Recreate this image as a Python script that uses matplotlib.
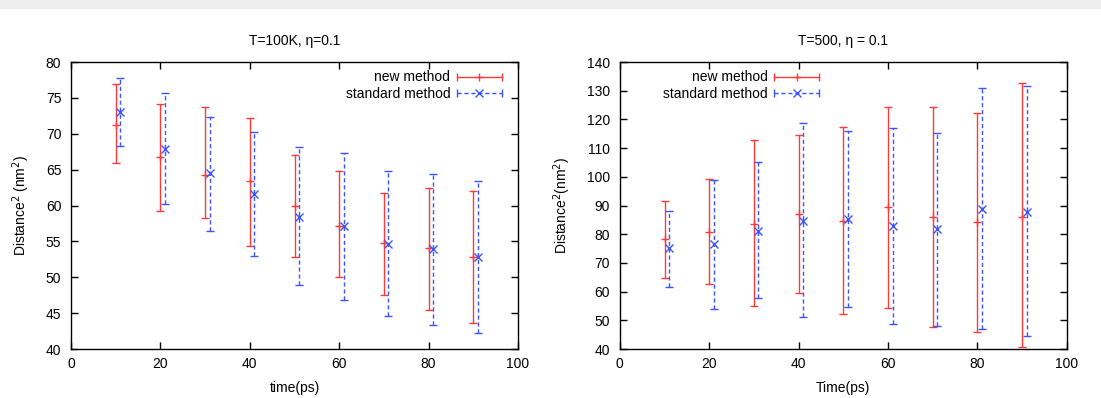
import numpy as np
import matplotlib
matplotlib.use("Agg")
import matplotlib.pyplot as plt
from matplotlib.patches import Rectangle
from matplotlib.lines import Line2D
from matplotlib.container import ErrorbarContainer
from matplotlib.legend_handler import HandlerBase

# ---- Data ----
time_new = [10, 20, 30, 40, 50, 60, 70, 80, 90]
time_std = [11, 21, 31, 41, 51, 61, 71, 81, 91]

# T=100K panel
t100_new_mid = [71.3, 66.8, 64.3, 63.4, 60.0, 57.2, 54.8, 54.1, 52.8]
t100_new_lo = [65.9, 59.2, 58.3, 54.4, 52.8, 50.0, 47.6, 45.4, 43.7]
t100_new_hi = [77.0, 74.2, 73.8, 72.2, 67.0, 64.8, 61.8, 62.4, 62.0]
t100_std_mid = [73.1, 67.9, 64.6, 61.6, 58.4, 57.1, 54.6, 53.9, 52.8]
t100_std_lo = [68.3, 60.2, 56.5, 53.0, 48.9, 46.9, 44.6, 43.3, 42.3]
t100_std_hi = [77.8, 75.7, 72.4, 70.3, 68.1, 67.3, 64.8, 64.4, 63.4]

# T=500 panel
t500_new_mid = [78.3, 80.9, 83.5, 87.1, 84.7, 89.6, 86.1, 84.4, 86.0]
t500_new_lo = [64.8, 62.5, 55.0, 59.6, 52.3, 54.2, 47.7, 46.1, 40.6]
t500_new_hi = [91.7, 99.3, 112.9, 114.7, 117.3, 124.5, 124.5, 122.2, 132.6]
t500_std_mid = [75.2, 76.7, 81.2, 84.7, 85.2, 82.9, 81.7, 88.8, 87.9]
t500_std_lo = [61.7, 54.1, 57.9, 51.3, 54.6, 48.9, 48.1, 46.9, 44.4]
t500_std_hi = [88.1, 99.0, 105.2, 118.8, 115.9, 116.9, 115.2, 130.8, 131.7]

RED = "#ff3838"
BLUE = "#3a55ff"
DASH = (0, (3, 2))

plt.rcParams["font.family"] = ["Liberation Sans", "DejaVu Sans"]
plt.rcParams["font.size"] = 10


class GnuplotErrHandler(HandlerBase):
    # horizontal sample with caps at both ends and the point mark in the middle
    def create_artists(self, legend, orig_handle, xdescent, ydescent,
                       width, height, fontsize, trans):
        data_line = orig_handle.lines[0]
        color = data_line.get_color()
        marker = data_line.get_marker()
        dashes = orig_handle.lines[2][0].get_linestyle()[0][1]
        x0, x1 = -xdescent, width - xdescent
        y = height / 2 - ydescent
        line = Line2D([x0, x1], [y, y], color=color, lw=1)
        if dashes:
            line.set_dashes([3, 2])
        caps = Line2D([x0, x1], [y, y], color=color, ls="none",
                      marker="|", markersize=6, markeredgewidth=1)
        mid = Line2D([(x0 + x1) / 2], [y], color=color, ls="none",
                     marker=marker, markersize=6, markeredgewidth=1)
        arts = [line, caps, mid]
        for a in arts:
            a.set_transform(trans)
        return arts


def draw_series(ax, x, mid, lo, hi, color, marker, dashed, label):
    mid = np.array(mid)
    yerr = [mid - np.array(lo), np.array(hi) - mid]
    eb = ax.errorbar(x, mid, yerr=yerr, fmt=marker, color=color, ecolor=color,
                     elinewidth=1, capsize=3, capthick=1, markersize=6,
                     markeredgewidth=1, label=label)
    if dashed:
        eb[2][0].set_linestyle(DASH)
    return eb


def style_axes(ax, title, xlabel, ylabel, ylim, ystep, legend_x):
    ax.set_xlim(0, 100)
    ax.set_ylim(*ylim)
    ax.set_xticks(np.arange(0, 101, 20))
    ax.set_yticks(np.arange(ylim[0], ylim[1] + 1, ystep))
    ax.tick_params(direction="in", top=True, right=True, length=5, width=1)
    ax.tick_params(axis="x", pad=6)
    ax.tick_params(axis="y", pad=7)
    ax.set_title(title, fontsize=10, pad=12)
    ax.set_xlabel(xlabel, labelpad=7)
    ax.set_ylabel(ylabel, labelpad=10)
    for s in ax.spines.values():
        s.set_linewidth(1)
    ax.legend(loc="upper right", bbox_to_anchor=(legend_x, 1.0),
              frameon=False, markerfirst=False,
              handlelength=3.2, handletextpad=0.5, borderaxespad=0.2,
              labelspacing=0.15, fontsize=10,
              handler_map={ErrorbarContainer: GnuplotErrHandler()})


fig = plt.figure(figsize=(11.01, 3.98), dpi=100)
fig.patches.append(Rectangle((0, 0.98), 1, 0.02, transform=fig.transFigure,
                             color="#eeeeee", zorder=0))

ax1 = fig.add_axes([0.0645, 0.123, 0.406, 0.721])
draw_series(ax1, time_new, t100_new_mid, t100_new_lo, t100_new_hi,
            RED, "+", False, "new method")
draw_series(ax1, time_std, t100_std_mid, t100_std_lo, t100_std_hi,
            BLUE, "x", True, "standard method")
style_axes(ax1, "T=100K, η=0.1", "time(ps)", "Distance$^2$ (nm$^2$)",
           (40, 80), 5, 0.982)

ax2 = fig.add_axes([0.563, 0.123, 0.406, 0.721])
draw_series(ax2, time_new, t500_new_mid, t500_new_lo, t500_new_hi,
            RED, "+", False, "new method")
draw_series(ax2, time_std, t500_std_mid, t500_std_lo, t500_std_hi,
            BLUE, "x", True, "standard method")
style_axes(ax2, "T=500, η = 0.1", "Time(ps)", "Distance$^2$(nm$^2$)",
           (40, 140), 10, 0.464)

fig.savefig("out.png", dpi=100)
